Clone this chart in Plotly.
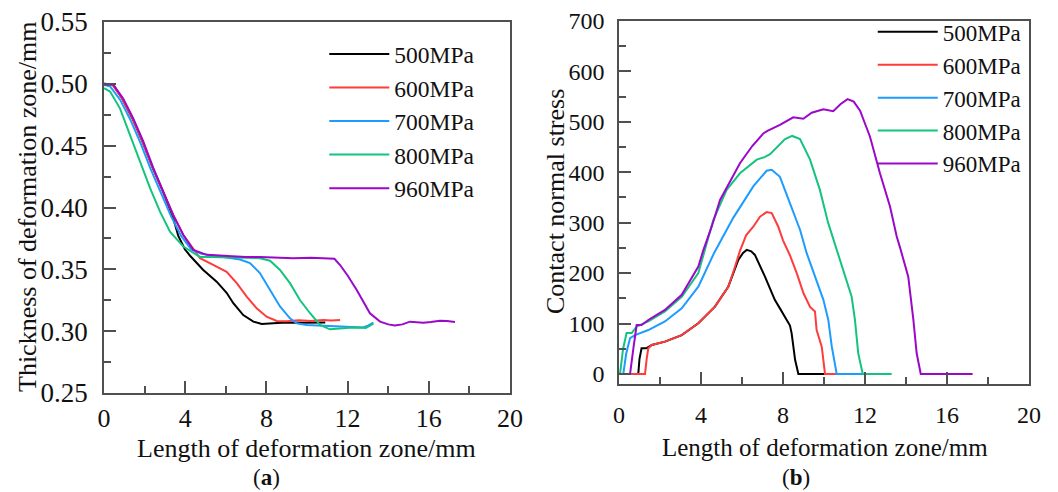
import plotly.graph_objects as go

names = ["500MPa", "600MPa", "700MPa", "800MPa", "960MPa"]
colors = ["#000000", "#FF3B3B", "#1E9BFF", "#14C47E", "#9B08C9"]

# ---- (a) thickness of deformation zone ----
ta_x_500 = [0, 0.45, 0.9, 1.4, 1.9, 2.4, 2.9, 3.4, 3.66, 3.99, 4.24, 4.89, 5.55, 6.04, 6.37, 6.86, 7.36, 7.77, 8.34, 9.0, 9.8, 10.4, 10.9]
ta_y_500 = [0.500, 0.4995, 0.488, 0.472, 0.453, 0.432, 0.413, 0.392, 0.377, 0.366, 0.361, 0.3495, 0.340, 0.331, 0.3226, 0.313, 0.3077, 0.3058, 0.3065, 0.307, 0.3068, 0.3072, 0.307]
ta_x_600 = [0, 0.4, 0.9, 1.4, 1.9, 2.4, 2.9, 3.4, 3.9, 4.4, 4.73, 5.38, 6.04, 6.54, 7.03, 7.52, 8.01, 8.51, 9.0, 9.6, 10.2, 10.8, 11.2, 11.63]
ta_y_600 = [0.500, 0.4995, 0.488, 0.472, 0.453, 0.432, 0.413, 0.394, 0.378, 0.366, 0.359, 0.3536, 0.348, 0.3388, 0.328, 0.3185, 0.3117, 0.3083, 0.308, 0.3088, 0.3082, 0.309, 0.3086, 0.309]
ta_x_700 = [0, 0.3, 0.8, 1.3, 1.8, 2.3, 2.8, 3.3, 3.8, 4.3, 4.8, 5.5, 6.2, 6.7, 7.19, 7.68, 8.18, 8.67, 9.16, 9.49, 9.98, 10.6, 11.2, 11.8, 12.4, 12.77, 13.0, 13.27]
ta_y_700 = [0.499, 0.498, 0.487, 0.471, 0.452, 0.431, 0.412, 0.393, 0.377, 0.366, 0.3625, 0.361, 0.3595, 0.358, 0.355, 0.347, 0.3333, 0.320, 0.3104, 0.3064, 0.305, 0.3045, 0.3045, 0.304, 0.3035, 0.303, 0.3045, 0.307]
ta_x_800 = [0, 0.3, 0.79, 1.28, 1.77, 2.27, 2.76, 3.25, 3.91, 4.73, 5.22, 6.2, 7.0, 7.68, 8.18, 8.67, 9.16, 9.66, 10.15, 10.64, 11.13, 11.63, 12.1, 12.61, 12.9, 13.27]
ta_y_800 = [0.4965, 0.4938, 0.480, 0.4587, 0.437, 0.4156, 0.3967, 0.3805, 0.3684, 0.360, 0.360, 0.3595, 0.3595, 0.359, 0.357, 0.3495, 0.3388, 0.325, 0.3145, 0.305, 0.3015, 0.3023, 0.3028, 0.303, 0.3025, 0.306]
ta_x_960 = [0, 0.46, 0.95, 1.44, 1.94, 2.43, 2.92, 3.41, 3.91, 4.40, 5.06, 6.04, 7.0, 7.68, 8.5, 9.33, 10.2, 10.97, 11.35, 11.63, 12.0, 12.45, 13.1, 13.6, 14.0, 14.33, 14.7, 15.07, 15.4, 15.73, 16.1, 16.55, 16.9, 17.29]
ta_y_960 = [0.4995, 0.4993, 0.488, 0.472, 0.4533, 0.4318, 0.4129, 0.394, 0.3778, 0.3657, 0.3617, 0.3608, 0.3600, 0.3600, 0.3595, 0.359, 0.3593, 0.359, 0.3585, 0.3535, 0.345, 0.3333, 0.3145, 0.3077, 0.3055, 0.3045, 0.3055, 0.3077, 0.3072, 0.3069, 0.3075, 0.3085, 0.3082, 0.3075]

# ---- (b) contact normal stress ----
sb_x_500 = [0, 0.94, 1.0, 1.1, 1.35, 1.6, 2.24, 3.06, 3.87, 4.68, 5.33, 5.82, 6.05, 6.23, 6.45, 6.63, 7.12, 7.6, 7.85, 8.1, 8.34, 8.42, 8.5, 8.59, 8.75, 9.5, 10.2, 10.9]
sb_y_500 = [0, 0, 30, 51, 51, 57.5, 64, 77, 100.5, 133.5, 173, 226, 240, 246, 243, 236, 193, 147, 130, 114, 96, 81, 55, 28, 0, 0, 0, 0]
sb_x_600 = [0, 1.27, 1.35, 1.43, 1.6, 2.24, 3.06, 3.87, 4.68, 5.33, 5.6, 5.9, 6.2, 6.55, 6.88, 7.2, 7.45, 7.77, 8.0, 8.34, 8.67, 9.0, 9.32, 9.56, 9.64, 9.89, 10.05, 10.6, 11.1, 11.63]
sb_y_600 = [0, 0, 30, 51, 57.5, 64, 77, 100.5, 133.5, 173, 205, 244, 275, 292, 312, 321, 319, 292, 265, 235, 200, 160, 133, 124, 87, 54, 0, 0, 0, 0]
sb_x_700 = [0, 0.21, 0.35, 0.54, 0.78, 1.43, 2.24, 3.06, 3.87, 4.64, 5.58, 6.55, 7.2, 7.45, 7.85, 8.34, 8.83, 9.16, 9.64, 9.97, 10.21, 10.38, 10.62, 11.5, 12.4, 13.27]
sb_y_700 = [0, 0, 40, 71, 77, 87, 104, 130, 173, 240, 310, 372, 403, 405, 391, 339, 286, 239, 186, 147, 107, 54, 0, 0, 0, 0]
sb_x_800 = [0, 0.05, 0.2, 0.37, 0.62, 0.86, 1.43, 2.24, 3.06, 3.87, 4.3, 4.6, 5.25, 5.9, 6.72, 7.1, 7.37, 7.6, 7.85, 8.1, 8.45, 8.83, 9.32, 9.8, 10.2, 10.62, 10.78, 11.0, 11.35, 11.51, 11.67, 11.89, 12.5, 13.3]
sb_y_800 = [0, 0, 50, 81, 81, 94, 104, 124, 153, 200, 262, 305, 365, 398, 425, 430, 436, 445, 456, 466, 472, 466, 425, 365, 300, 246, 226, 200, 153, 107, 41, 0, 0, 0]
sb_x_960 = [0, 0.54, 0.7, 0.86, 1.1, 1.43, 2.24, 3.06, 3.87, 4.11, 4.52, 4.93, 5.9, 6.5, 7.04, 7.24, 7.85, 8.5, 8.99, 9.4, 9.97, 10.45, 10.8, 11.15, 11.45, 11.76, 12.24, 12.73, 13.22, 13.55, 13.7, 14.11, 14.36, 14.52, 14.72, 15.5, 16.4, 17.25]
sb_y_960 = [0, 0, 50, 97, 97, 107, 127, 157, 213, 245, 292, 345, 418, 452, 477, 482, 494, 509, 506, 518, 525, 521, 535, 545, 540, 522, 471, 398, 332, 272, 252, 193, 107, 41, 0, 0, 0, 0]

ta_x = [ta_x_500, ta_x_600, ta_x_700, ta_x_800, ta_x_960]
ta_y = [ta_y_500, ta_y_600, ta_y_700, ta_y_800, ta_y_960]
sb_x = [sb_x_500, sb_x_600, sb_x_700, sb_x_800, sb_x_960]
sb_y = [sb_y_500, sb_y_600, sb_y_700, sb_y_800, sb_y_960]

FONT = "Liberation Serif"
AXC = "#505050"
TXT = "#111111"

fig = go.Figure()
for i in range(5):
    fig.add_trace(go.Scatter(x=ta_x[i], y=ta_y[i], mode="lines", name=names[i],
                             line=dict(color=colors[i], width=2), xaxis="x", yaxis="y",
                             legend="legend"))
for i in range(5):
    fig.add_trace(go.Scatter(x=sb_x[i], y=sb_y[i], mode="lines", name=names[i],
                             line=dict(color=colors[i], width=2), xaxis="x2", yaxis="y2",
                             legend="legend2"))

W, H = 1058, 492
def px(x):
    return x / W
def py(y):
    return 1 - y / H

common = dict(showgrid=False, zeroline=False, showline=True, mirror=True,
              linecolor=AXC, linewidth=1.5, ticks="inside", tickcolor=AXC,
              tickwidth=1.5, ticklen=12, color=TXT, automargin=False)
minor_common = dict(ticks="inside", ticklen=7, tickcolor=AXC, tickwidth=1.5)

def ann(text, x, y, size, angle=0):
    return dict(text=text, x=px(x), y=py(y), xref="paper", yref="paper",
                showarrow=False, textangle=angle,
                font=dict(size=size, family=FONT, color=TXT),
                xanchor="center", yanchor="middle")

fig.update_layout(
    width=W, height=H, margin=dict(l=0, r=0, t=0, b=0, autoexpand=False),
    paper_bgcolor="white", plot_bgcolor="white",
    font=dict(family=FONT, color=TXT),
    xaxis=dict(domain=[px(104), px(510)], range=[0, 20], dtick=4, tick0=0,
               anchor="y", tickfont=dict(size=26), ticklabelstandoff=1,
               minor=dict(dtick=2, tick0=0, **minor_common), **common),
    yaxis=dict(domain=[py(393), py(22)], range=[0.25, 0.55], dtick=0.05, tick0=0.25,
               tickformat=".2f", anchor="x", tickfont=dict(size=27), ticklabelstandoff=9,
               minor=dict(dtick=0.025, tick0=0.25, **minor_common), **common),
    xaxis2=dict(domain=[px(619), px(1029)], range=[0, 20], dtick=4, tick0=0,
                anchor="y2", tickfont=dict(size=24), ticklabelstandoff=8,
                minor=dict(dtick=2, tick0=0, **minor_common), **common),
    yaxis2=dict(domain=[py(384), py(21)], range=[-20, 700], dtick=100, tick0=0,
                anchor="x2", tickfont=dict(size=24), ticklabelstandoff=8,
                minor=dict(dtick=50, tick0=0, **minor_common), **common),
    legend=dict(x=0.3065, y=0.9346, xanchor="left", yanchor="top",
                font=dict(size=23.5, family=FONT, color=TXT), itemwidth=60,
                bgcolor="rgba(0,0,0,0)", tracegroupgap=0),
    legend2=dict(x=0.8249, y=0.9789, xanchor="left", yanchor="top",
                 font=dict(size=23, family=FONT, color=TXT), itemwidth=60,
                 bgcolor="rgba(0,0,0,0)", tracegroupgap=0),
    annotations=[
        ann("Length of deformation zone/mm", 306, 448, 26),
        ann("Thickness of deformation zone/mm", 28, 207, 26, -90),
        ann("Length of deformation zone/mm", 825, 447, 25),
        ann("Contact normal stress", 555, 202, 26, -90),
        ann("(<b>a</b>)", 266, 477, 23),
        ann("(<b>b</b>)", 796, 477, 23),
    ],
)

fig.write_html("out.html")
